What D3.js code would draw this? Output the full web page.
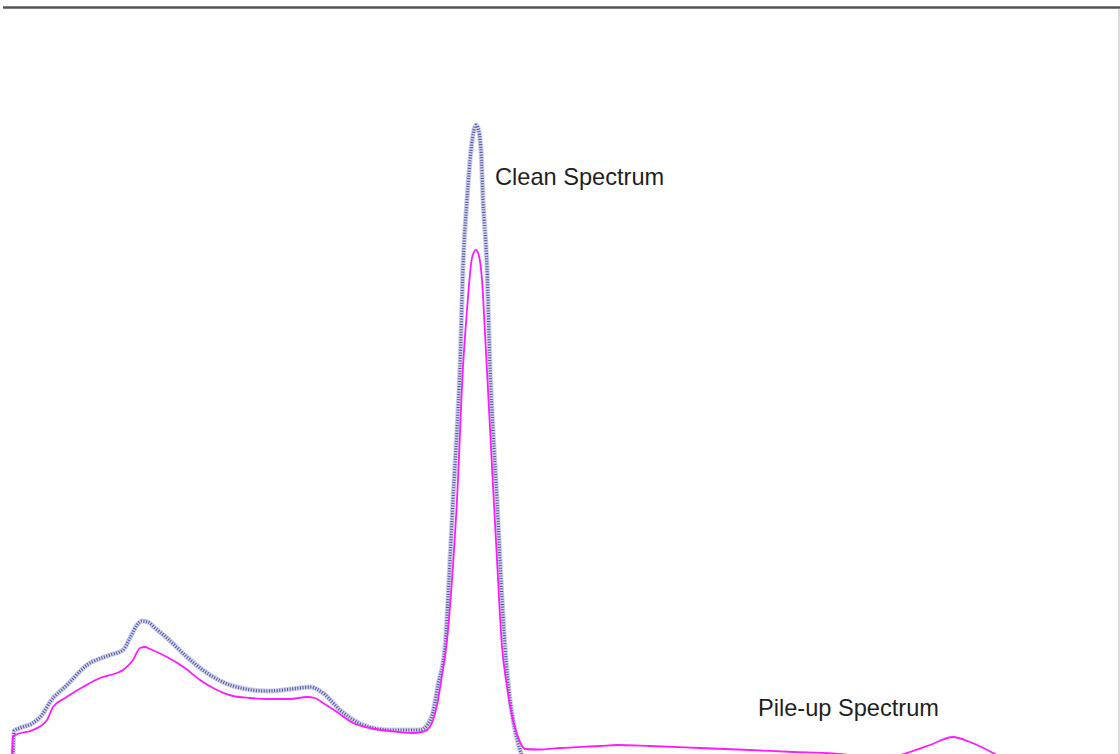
<!DOCTYPE html>
<html>
<head>
<meta charset="utf-8">
<script src="https://cdnjs.cloudflare.com/ajax/libs/d3/7.8.5/d3.min.js"></script>
<style>
  html, body { margin: 0; padding: 0; background: #fff; overflow: hidden; }
  svg { display: block; }
</style>
</head>
<body>
<svg id="chart"></svg>
<script>
// spectrum plot: clean vs pile-up
// channel / counts

var clean_channels = [3, 4, 10, 23, 32, 40, 57, 77, 100, 113, 120, 127, 132, 138, 145, 157, 177, 197, 223, 257, 290, 300, 313, 330, 353, 380, 410, 418, 423, 428, 435, 439, 443, 447, 450, 453, 457, 461, 464, 466, 468, 471, 473, 477, 480, 483, 487, 491, 495, 500, 505, 510, 513];
var clean_counts = [0, 290, 320, 370, 450, 580, 750, 950, 1050, 1100, 1220, 1350, 1390, 1380, 1320, 1220, 1030, 870, 740, 690, 720, 730, 670, 500, 350, 300, 300, 360, 480, 750, 1130, 1800, 2600, 3300, 3930, 4930, 5600, 6100, 6300, 6350, 6320, 6100, 5600, 4930, 3930, 3300, 2600, 1800, 1130, 600, 300, 100, 0];

var pileup_channels = [2, 3, 5, 23, 37, 43, 55, 73, 90, 107, 113, 123, 130, 135, 140, 157, 175, 190, 205, 223, 240, 257, 280, 297, 305, 313, 327, 343, 360, 380, 403, 412, 417, 423, 428, 432, 437, 442, 447, 453, 457, 462, 466, 469, 472, 475, 482, 487, 492, 496, 500, 505, 510, 515, 530, 550, 590, 607, 640, 690, 740, 783, 823, 850, 870, 890, 900, 920, 943, 960, 983, 995];
var pileup_counts = [0, 230, 250, 300, 400, 530, 620, 730, 820, 870, 900, 1000, 1120, 1130, 1110, 1030, 920, 800, 710, 640, 620, 610, 610, 630, 620, 570, 480, 370, 320, 290, 270, 280, 300, 400, 600, 850, 1200, 1800, 2600, 3930, 4500, 5020, 5100, 5040, 4800, 4270, 2930, 2000, 1130, 800, 550, 320, 180, 110, 105, 120, 140, 150, 140, 120, 100, 80, 65, 40, 30, 50, 80, 150, 230, 180, 70, 0];

var labels = ["Clean Spectrum", "Pile-up Spectrum"];

var width = 1120, height = 754;
var colors = {'clean_dot': '#262b8c', 'clean_halo': '#bfc3e0', 'pileup': '#ff1aff', 'frame': '#555555', 'text': '#1f1f1f'};

var svg = d3.select("#chart").attr("width", width).attr("height", height);

var x = d3.scaleLinear().domain([0, 1100]).range([10, 1110]);
var y = d3.scaleLinear().domain([0, 6400]).range([760, 120]);

function zip_points(xs, ys) {
    return xs.map(function(c, i) { return [c, ys[i]]; });
}

var line = d3.line()
    .x(function(d) { return x(d[0]); })
    .y(function(d) { return y(d[1]); })
    .curve(d3.curveMonotoneX);

// frame bits left over from the cropped figure
svg.append("line")
    .attr("x1", 3).attr("x2", width)
    .attr("y1", 7.5).attr("y2", 7.5)
    .attr("stroke", colors.frame).attr("stroke-width", 2.5);
svg.append("line")
    .attr("x1", 1119).attr("x2", 1119)
    .attr("y1", 9).attr("y2", height)
    .attr("stroke", "#cfcfcf").attr("stroke-width", 1.5);

var clean = zip_points(clean_channels, clean_counts);
var pileup = zip_points(pileup_channels, pileup_counts);

// clean spectrum: thick dotted blue band
svg.append("path")
    .datum(clean)
    .attr("d", line)
    .attr("fill", "none")
    .attr("stroke", colors.clean_halo)
    .attr("stroke-width", 5)
    .attr("opacity", 0.75);
svg.append("path")
    .datum(clean)
    .attr("d", line)
    .attr("fill", "none")
    .attr("stroke", colors.clean_dot)
    .attr("stroke-width", 3.2)
    .attr("stroke-dasharray", "1,1.6")
    .attr("opacity", 0.75);

svg.append("path")
    .datum(pileup)
    .attr("d", line)
    .attr("fill", "none")
    .attr("stroke", colors.pileup)
    .attr("stroke-width", 1.8);

svg.append("text")
    .attr("x", 495).attr("y", 185)
    .attr("font-family", "Liberation Sans, Arial, sans-serif")
    .attr("font-size", 23.6)
    .attr("fill", colors.text)
    .text(labels[0]);

svg.append("text")
    .attr("x", 758).attr("y", 716)
    .attr("font-family", "Liberation Sans, Arial, sans-serif")
    .attr("font-size", 23.6)
    .attr("fill", colors.text)
    .text(labels[1]);
</script>
</body>
</html>
